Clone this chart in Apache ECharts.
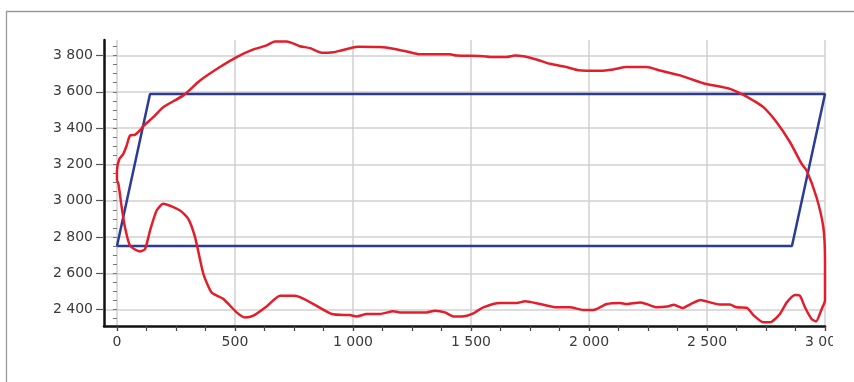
<!DOCTYPE html>
<html>
<head>
<meta charset="utf-8">
<script src="https://cdn.jsdelivr.net/npm/echarts@6/dist/echarts.min.js"></script>
<style>
html,body{margin:0;padding:0;background:#fff;}
#chart{width:854px;height:382px;}
</style>
</head>
<body>
<div id="chart"></div>
<script>
// Tick values
const xLabelValues = [0, 500, 1000, 1500, 2000, 2500, 3000];
const xMinorValues = [0, 125, 250, 375, 500, 625, 750, 875, 1000, 1125, 1250, 1375, 1500, 1625, 1750, 1875, 2000, 2125, 2250, 2375, 2500, 2625, 2750, 2875, 3000];
const yLabelValues = [2400, 2600, 2800, 3000, 3200, 3400, 3600, 3800];
const yMinorValues = [2350, 2400, 2450, 2500, 2550, 2600, 2650, 2700, 2750, 2800, 2850, 2900, 2950, 3000, 3050, 3100, 3150, 3200, 3250, 3300, 3350, 3400, 3450, 3500, 3550, 3600, 3650, 3700, 3750, 3800, 3850];

// Blue parallelogram
const blueX = [0, 140, 3000, 2860, 0];
const blueY = [2750, 3588, 3588, 2750, 2750];

// Red loop (upper branch left->right, right side down, lower branch right->left)
const redX = [0, 0, 10, 27, 41, 55, 76, 97, 111, 154, 196, 281, 352, 436, 507, 578, 634, 669, 719, 775, 818, 867, 917, 945, 987, 1022, 1114, 1171, 1227, 1284, 1411, 1439, 1553, 1581, 1651, 1686, 1722, 1778, 1835, 1905, 1955, 2047, 2103, 2159, 2244, 2301, 2386, 2484, 2597, 2654, 2696, 2739, 2795, 2852, 2900, 2922, 2964, 2993, 3000, 3000, 2986, 2962, 2943, 2915, 2894, 2873, 2838, 2809, 2767, 2739, 2699, 2668, 2625, 2597, 2555, 2513, 2473, 2431, 2395, 2360, 2332, 2287, 2244, 2216, 2159, 2131, 2075, 2018, 1976, 1919, 1863, 1792, 1729, 1694, 1623, 1552, 1510, 1461, 1425, 1390, 1347, 1312, 1199, 1171, 1114, 1058, 1016, 987, 910, 754, 691, 634, 578, 542, 507, 451, 401, 366, 331, 302, 267, 196, 168, 140, 119, 97, 55, 34, 20, 6, 0];
const redY = [3111, 3166, 3230, 3258, 3304, 3359, 3363, 3387, 3410, 3460, 3515, 3580, 3662, 3736, 3791, 3833, 3855, 3877, 3877, 3851, 3840, 3815, 3818, 3826, 3840, 3848, 3846, 3837, 3822, 3806, 3806, 3800, 3796, 3791, 3791, 3800, 3796, 3778, 3754, 3736, 3719, 3716, 3723, 3736, 3736, 3717, 3690, 3647, 3616, 3583, 3552, 3515, 3432, 3322, 3205, 3166, 3019, 2853, 2670, 2450, 2404, 2335, 2349, 2413, 2477, 2481, 2440, 2376, 2330, 2330, 2367, 2411, 2413, 2428, 2428, 2440, 2453, 2431, 2409, 2427, 2417, 2413, 2431, 2440, 2431, 2437, 2431, 2398, 2398, 2413, 2413, 2431, 2446, 2437, 2437, 2413, 2380, 2363, 2363, 2385, 2394, 2385, 2385, 2391, 2376, 2376, 2363, 2370, 2376, 2477, 2477, 2418, 2367, 2357, 2385, 2459, 2495, 2597, 2798, 2900, 2946, 2983, 2946, 2835, 2734, 2720, 2753, 2853, 2964, 3093, 3111];

function zip(a, b) { return a.map((v, i) => [v, b[i]]); }
function fmt(v) {
  v = Math.round(v);
  if (v >= 1000) return Math.floor(v / 1000) + ' ' + String(v % 1000).padStart(3, '0');
  return String(v);
}

const labelStyle = { fontFamily: 'DejaVu Sans', fontSize: 14, color: '#3a3a3a' };

const chart = echarts.init(document.getElementById('chart'), null, { renderer: 'canvas' });
chart.setOption({
  animation: false,
  backgroundColor: '#ffffff',
  grid: { left: 104, right: 29, top: 40, bottom: 56 },
  xAxis: [
    {
      type: 'value', min: -55, max: 3000, position: 'bottom',
      axisLine: { show: true, onZero: false, lineStyle: { color: '#111', width: 2.5 } },
      axisTick: { show: true, customValues: xLabelValues, length: 5, lineStyle: { color: '#444', width: 1.2 } },
      axisLabel: Object.assign({ customValues: xLabelValues, formatter: fmt, margin: 9 }, labelStyle),
      splitLine: { show: true, lineStyle: { color: '#d0d0d0', width: 1.5 } }
    },
    {
      type: 'value', min: -55, max: 3000, position: 'bottom',
      axisLine: { show: false },
      axisTick: { show: true, customValues: xMinorValues, length: 5, lineStyle: { color: '#444', width: 1.2 } },
      axisLabel: { show: false },
      splitLine: { show: false }
    }
  ],
  yAxis: [
    {
      type: 'value', min: 2310, max: 3885, splitNumber: 8, position: 'left',
      axisLine: { show: true, onZero: false, lineStyle: { color: '#111', width: 2.5 } },
      axisTick: { show: true, customValues: yLabelValues, length: 8, lineStyle: { color: '#555', width: 1.2 } },
      axisLabel: Object.assign({ customValues: yLabelValues, formatter: fmt, margin: 11 }, labelStyle),
      splitLine: { show: true, lineStyle: { color: '#d0d0d0', width: 1.5 } }
    },
    {
      type: 'value', min: 2310, max: 3885, position: 'left',
      axisLine: { show: false },
      axisTick: { show: true, customValues: yMinorValues, length: 4, lineStyle: { color: '#777', width: 1 } },
      axisLabel: { show: false },
      splitLine: { show: false }
    }
  ],
  series: [
    {
      type: 'line', xAxisIndex: 0, yAxisIndex: 0,
      data: zip(blueX, blueY), symbol: 'none', clip: false,
      lineStyle: { color: '#2c3b96', width: 2.5 }, z: 3
    },
    {
      type: 'line', xAxisIndex: 0, yAxisIndex: 0,
      data: zip(redX, redY), symbol: 'none', clip: false, smooth: 0.2,
      lineStyle: { color: '#e31e2b', width: 2.5, join: 'round' }, z: 4
    }
  ],
  graphic: {
    elements: [
      { type: 'polyline', z: 100, shape: { points: [[6.5, 382], [6.5, 11.5], [854, 11.5]] }, style: { stroke: '#9a9a9a', lineWidth: 1.3, fill: null } },
      { type: 'rect', z: 100, shape: { x: 833, y: 329, width: 30, height: 30 }, style: { fill: '#ffffff' } }
    ]
  }
});
</script>
</body>
</html>
